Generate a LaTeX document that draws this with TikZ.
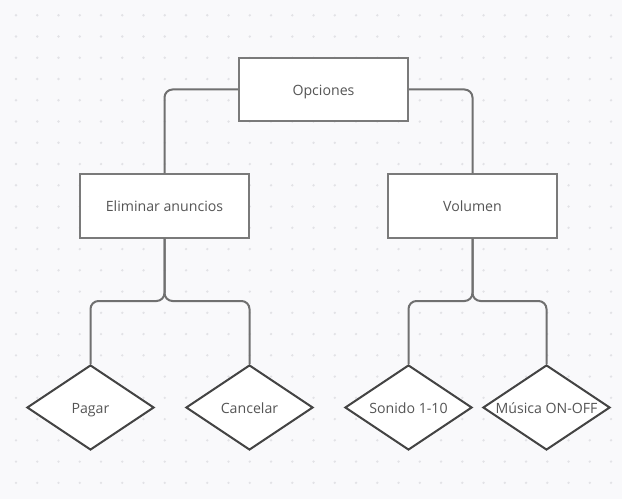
\documentclass[tikz,border=0pt]{standalone}
\usepackage{fontspec}
\setmainfont{Open Sans}
\usetikzlibrary{shapes.geometric}
\definecolor{bgc}{HTML}{F9F9FB}
\definecolor{dotc}{HTML}{E2E2E6}
\definecolor{boxline}{HTML}{7A7A7A}
\definecolor{diaLine}{HTML}{444444}
\definecolor{connc}{HTML}{707070}
\definecolor{txtc}{HTML}{555555}
\begin{document}
\begin{tikzpicture}[x=1bp,y=-1bp,
  every node/.style={font=\fontsize{14.2}{16}\selectfont, text=txtc, text height=11.6bp, text depth=0bp},
  box/.style={draw=boxline, line width=2bp, fill=white, minimum width=169bp, minimum height=63bp, inner sep=0},
  dia/.style={draw=diaLine, line width=2bp, fill=white, shape=diamond, aspect=1.5, minimum width=127bp, minimum height=85bp, inner sep=0},
  conn/.style={draw=connc, line width=2bp, rounded corners=8bp}]
\fill[bgc] (0,0) rectangle (622,499);
\useasboundingbox (0,0) rectangle (622,499);
\foreach \i in {0,...,28}{
  \foreach \j in {0,...,23}{
    \fill[dotc] (16+21.25*\i,15.3+21.25*\j) circle (1.3bp);
  }
}
\node[box] (opc) at (323.5,89.5) {Opciones};
\node[box] (elim) at (164.5,206) {Eliminar anuncios};
\node[box] (vol) at (472.5,206) {Volumen};
\node[dia] (pag) at (90.5,407.5) {Pagar};
\node[dia] (can) at (249.5,407.5) {Cancelar};
\node[dia] (son) at (408.5,407.5) {Sonido 1-10};
\node[dia] (mus) at (546.5,407.5) {Música ON-OFF};
\coordinate (eb) at (164.5,301);
\coordinate (vb) at (472.5,301);
\draw[conn] (opc.west) -| (elim.north);
\draw[conn] (opc.east) -| (vol.north);
\draw[conn] (elim.south) -- (eb) -| (pag.north);
\draw[conn] (elim.south) -- (eb) -| (can.north);
\draw[conn] (vol.south) -- (vb) -| (son.north);
\draw[conn] (vol.south) -- (vb) -| (mus.north);
\end{tikzpicture}
\end{document}
